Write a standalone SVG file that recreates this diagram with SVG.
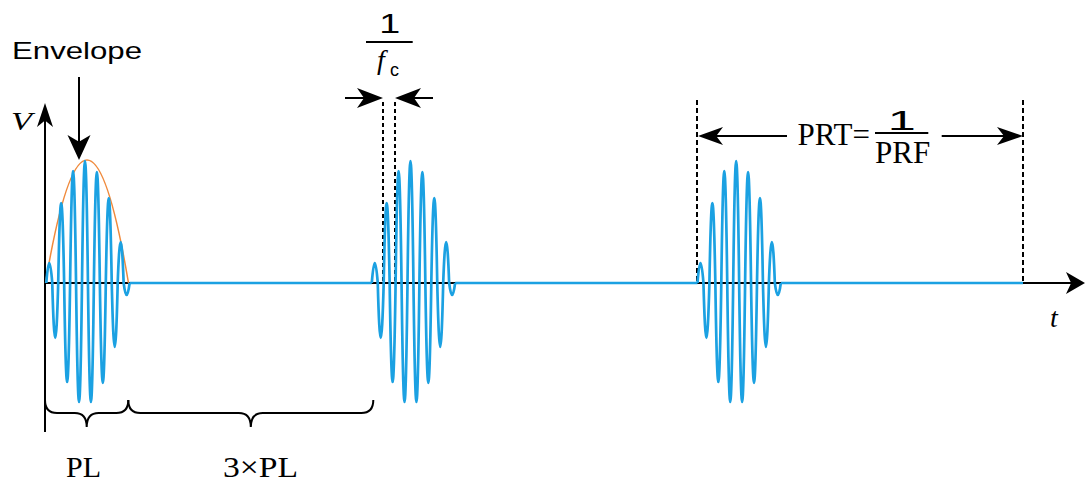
<svg xmlns="http://www.w3.org/2000/svg" width="1086" height="481" viewBox="0 0 1086 481">
<style>
.ax{stroke:#000;stroke-width:2;fill:none}
.dash{stroke:#000;stroke-width:2;fill:none;stroke-dasharray:4 3}
.dash2{stroke:#000;stroke-width:2;fill:none;stroke-dasharray:5 3}
.wave{stroke:#1ba1e2;stroke-width:2.7;fill:none;stroke-linejoin:round}
.env{stroke:#f08a3c;stroke-width:1.5;fill:none}
.ah{fill:#000}
.sans{font-family:"Liberation Sans",Arial,sans-serif;fill:#000}
.serif{font-family:"Liberation Serif","Times New Roman",serif;fill:#000}
.it{font-style:italic}
</style>
<defs>
<path id="ah" d="M0,0 L-1,-0.5 L-0.73,0 L-1,0.5 Z"/>
<path id="pulse" class="wave" d="M46.3,283 q2.975,-40 5.95,0 q2.975,110 5.95,0 q2.975,-160 5.95,0 q2.975,198 5.95,0 q2.975,-224 5.95,0 q2.975,238 5.95,0 q2.975,-244 5.95,0 q2.975,238 5.95,0 q2.975,-222 5.95,0 q2.975,200 5.95,0 q2.975,-170 5.95,0 q2.975,128 5.95,0 q2.975,-82 5.95,0 q2.975,24 5.95,0"/>
</defs>
<rect width="1086" height="481" fill="#fff"/>

<g id="axes">
<path class="ax" d="M45,432 V115"/>
<use href="#ah" class="ah" transform="translate(45,103) rotate(-90) scale(24,16)"/>
<path class="ax" d="M45,283 H1075"/>
<use href="#ah" class="ah" transform="translate(1085,283) scale(19,22)"/>
<text class="serif it" x="11" y="130" font-size="26" textLength="21" lengthAdjust="spacingAndGlyphs">V</text>
<text class="serif it" x="1050" y="326.5" font-size="28">t</text>
</g>

<g id="guides">
<path class="dash" d="M383,102 V283 M395,102 V283"/>
<path class="dash2" d="M697,100 V283 M1023,100 V283"/>
</g>

<g id="baseline">
<path class="wave" d="M129.6,283 H371.8 M455.1,283 H697.5 M780.8,283 H1023"/>
</g>

<g id="envelope">
<path class="env" d="M45.5,283 Q87,37 128.5,283"/>
</g>

<g id="pulse1"><use href="#pulse"/></g>
<g id="pulse2"><use href="#pulse" x="325.5"/></g>
<g id="pulse3"><use href="#pulse" x="651.2"/></g>

<g id="connectors">
<path class="ax" d="M79,77 V145"/>
<use href="#ah" class="ah" transform="translate(79,160) rotate(90) scale(25,23)"/>
<path class="ax" d="M345,98 H370 M433,98 H408"/>
<use href="#ah" class="ah" transform="translate(383,98) scale(26,20)"/>
<use href="#ah" class="ah" transform="translate(395,98) rotate(180) scale(26,20)"/>
<path class="ax" d="M787,136 H712 M941.7,136 H1008"/>
<use href="#ah" class="ah" transform="translate(698,136) rotate(180) scale(25,18)"/>
<use href="#ah" class="ah" transform="translate(1023,136) scale(26,18)"/>
</g>

<g id="envelope-label">
<text class="sans" x="12" y="59" font-size="24" textLength="130" lengthAdjust="spacingAndGlyphs">Envelope</text>
</g>

<g id="fc-label">
<text class="sans" x="379.2" y="33.3" font-size="28" textLength="21" lengthAdjust="spacingAndGlyphs">1</text>
<path class="ax" d="M366,42 H412.7"/>
<text class="serif it" x="377" y="69" font-size="28">f</text>
<text class="sans" x="390" y="76" font-size="18">c</text>
</g>

<g id="prt-label">
<text class="serif" x="797.5" y="144.7" font-size="31">PRT=</text>
<text class="sans" x="887.8" y="129.7" font-size="28" textLength="28" lengthAdjust="spacingAndGlyphs">1</text>
<path class="ax" d="M875,133 H928.3"/>
<text class="serif" x="875" y="162.5" font-size="31">PRF</text>
</g>

<g id="braces">
<path class="ax" d="M45,400 Q45,413 57,413 H74.7 Q86.7,413 86.7,427 Q86.7,413 98.7,413 H116.3 Q128.3,413 128.3,400"/>
<path class="ax" d="M128.3,400 Q128.3,413 140.3,413 H238.8 Q250.8,413 250.8,427 Q250.8,413 262.8,413 H361.3 Q373.3,413 373.3,400"/>
<text class="serif" x="66" y="476.5" font-size="30">PL</text>
<text class="serif" x="223" y="476.5" font-size="30" textLength="75" lengthAdjust="spacingAndGlyphs">3×PL</text>
</g>
</svg>
